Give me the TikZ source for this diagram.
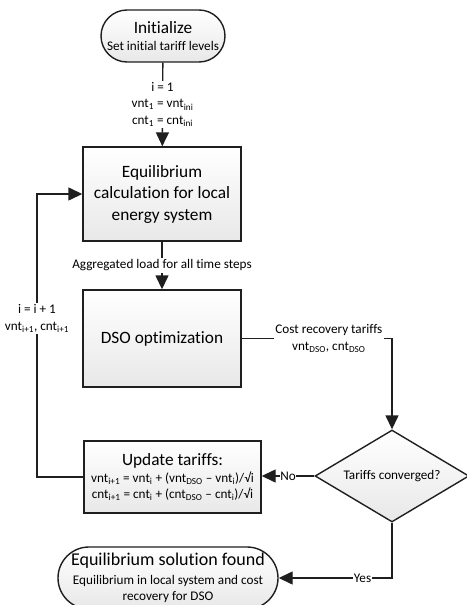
\documentclass[tikz,border=0pt]{standalone}
\usepackage{fontspec}
\setmainfont{Carlito}[Ligatures={NoCommon}]
\usetikzlibrary{arrows.meta,shapes.geometric}
\newcommand\bigtxt{\fontsize{17.3}{21.5}\selectfont}
\newcommand\smalltxt{\fontsize{13.2}{16.5}\selectfont}
\newcommand\sub[1]{\textsubscript{#1}}

\begin{document}
\begin{tikzpicture}[x=1pt,y=-1pt,
  base/.style={draw=black!88, line width=1.4pt, top color=white,
    bottom color=black!9, align=center, inner sep=0pt},
  procbox/.style={base, rectangle},
  term/.style={base, rectangle, rounded corners=#1},
  decision/.style={base, diamond, aspect=1.67},
  flow/.style={draw=black!88, line width=1.4pt, -{Triangle[length=14pt,width=13pt]}},
  lbl/.style={fill=white, font=\smalltxt, align=center, inner sep=1.5pt}
]
\useasboundingbox (0,0) rectangle (466,605);

% process steps
\node[term=26pt, minimum width=124pt, minimum height=52pt, font=\fontsize{13.2}{17.5}\selectfont] (init) at (163,36)
  {{\bigtxt Initialize}\\Set initial tariff levels};
\node[procbox, minimum width=158pt, minimum height=94pt, font=\bigtxt] (eq) at (162,194)
  {Equilibrium\\calculation for local\\energy system};
\node[procbox, minimum width=158pt, minimum height=97pt, font=\bigtxt] (dso) at (162,338.5)
  {DSO optimization};
\node[procbox, minimum width=177pt, minimum height=72pt, font=\smalltxt] (upd) at (172.5,477)
  {{\bigtxt Update tariffs:}\\[0.5pt]
   vnt\sub{i+1} = vnt\sub{i} + (vnt\sub{DSO} – vnt\sub{i})/√i\\
   cnt\sub{i+1} = cnt\sub{i} + (cnt\sub{DSO} – cnt\sub{i})/√i};
\node[decision, minimum width=154pt, minimum height=92pt, font=\smalltxt] (conv) at (392,476)
  {Tariffs converged?};
\node[term=31pt, minimum width=220pt, minimum height=62pt, font=\smalltxt] (done) at (168,578)
  {{\fontsize{18}{22}\selectfont Equilibrium solution found}\\[2.5pt]
   Equilibrium in local system and cost\\
   recovery for DSO};

% corner points of the feedback loop
\coordinate (lb) at (37,477);
\coordinate (lt) at (37,194);

% connectors
\draw[flow] (init) -- node[lbl] {i = 1\\vnt\sub{1} = vnt\sub{ini}\\cnt\sub{1} = cnt\sub{ini}} (eq);
\draw[flow] (eq) -- node[lbl] {Aggregated load for all time steps} (dso);
\draw[flow] (dso.east) -| node[lbl, pos=0.29] {Cost recovery tariffs\\vnt\sub{DSO}, cnt\sub{DSO}} (conv.north);
\draw[flow] (conv.west) -- node[lbl, inner sep=0.5pt] {No} (conv.west -| upd.east);
\draw[flow] (conv.south) |- node[lbl, pos=0.63, inner sep=0.5pt] {Yes} (done.east);
\draw[flow] (upd.west) -- (lb) -- node[lbl, pos=0.56] {i = i + 1\\vnt\sub{i+1}, cnt\sub{i+1}} (lt) -- (eq.west);
\end{tikzpicture}
\end{document}
